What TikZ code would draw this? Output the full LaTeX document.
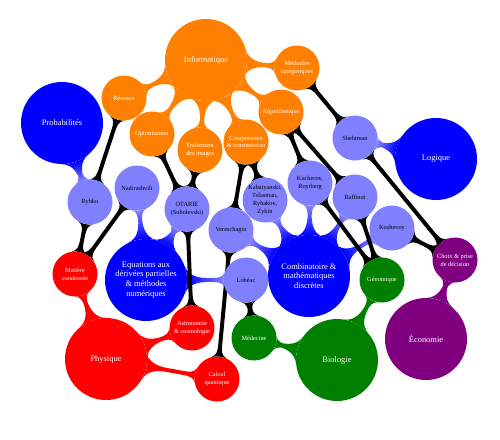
\documentclass[tikz,border=0pt]{standalone}
\usepackage{fontspec}
\setmainfont{Liberation Serif}
\usetikzlibrary{mindmap,backgrounds}
\begin{document}
\begin{tikzpicture}[x=0.5mm,y=-0.5mm,
	concept big/.style={circle,inner sep=0pt,align=center,minimum size=41mm,font=\large,text=white},
	concept small/.style={circle,inner sep=0pt,align=center,minimum size=22.5mm,font=\small},
	info/.style={concept small,fill=orange,text=white},
	person/.style={concept small,fill=blue!50,text=black},
	phys/.style={concept small,fill=red,text=white},
	bio/.style={concept small,fill=green!50!black,text=white},
	eco/.style={concept small,fill=violet,text=white},
	bar/.style 2 args={circle connection bar switch color=from (#1) to (#2),line width=4mm},
	wire/.style={circle connection bar switch color=from (black) to (black),line width=2.5mm}]
\useasboundingbox (0,0) rectangle (500,439);
% domaines
\node[concept big,fill=orange] (info) at (206,60) {Informatique};
\node[concept big,fill=blue] (proba) at (62,123) {Probabilités};
\node[concept big,fill=blue] (logique) at (436,159) {Logique};
\node[concept big,fill=blue] (edp) at (146,280) {Equations aux\\dérivées partielles\\\& méthodes\\numériques};
\node[concept big,fill=blue] (combi) at (309,276) {Combinatoire \&\\mathématiques\\discrètes};
\node[concept big,fill=red] (physique) at (106,359) {Physique};
\node[concept big,fill=green!50!black] (biologie) at (337,360) {Biologie};
\node[concept big,fill=violet] (economie) at (426,339) {Économie};
% informatique
\node[info] (reseaux) at (124,98) {Réseaux};
\node[info] (optim) at (152,134) {Optimisation};
\node[info] (images) at (200,150) {Traitement\\des images};
\node[info] (compression) at (246,142) {Compression\\\& transmission};
\node[info] (algo) at (281,112) {Algorithmique};
\node[info] (categ) at (297,68) {Méthodes\\catégoriques};
% personnes
\node[person] (rybko) at (90,202) {Rybko};
\node[person] (nadirashvili) at (137,188) {Nadirashvili};
\node[person] (otarie) at (187,209) {OTARIE\\(Sobolevski)};
\node[person] (vereschagin) at (231,230) {Vereschagin};
\node[person] (kabatyanski) at (265,200) {Kabatyanski,\\Tsfasman,\\Rybakov,\\Zykin};
\node[person] (kucherov) at (310,183) {Kucherov,\\Roytberg};
\node[person] (raffinot) at (355,197) {Raffinot};
\node[person] (koshevoy) at (392,228) {Koshevoy};
\node[person] (shehtman) at (355,138) {Shehtman};
\node[person] (lobeac) at (246,280) {Lobéac};
% applications
\node[phys] (matiere) at (75,274) {Matière\\condensée};
\node[phys] (astro) at (192,328) {Astronomie\\\& cosmologie};
\node[phys] (calcul) at (217,379) {Calcul\\quantique};
\node[bio] (medecine) at (254,338) {Médecine};
\node[bio] (genomique) at (382,280) {Génomique};
\node[eco] (choix) at (455,260) {Choix \& prise\\de décision};
\begin{scope}[on background layer]
	% liens des domaines
	\path (info) to[bar={orange}{orange}] (reseaux);
	\path (info) to[bar={orange}{orange}] (optim);
	\path (info) to[bar={orange}{orange}] (images);
	\path (info) to[bar={orange}{orange}] (compression);
	\path (info) to[bar={orange}{orange}] (algo);
	\path (info) to[bar={orange}{orange}] (categ);
	\path (proba) to[bar={blue}{blue!50}] (rybko);
	\path (logique) to[bar={blue}{blue!50}] (shehtman);
	\path (edp) to[bar={blue}{blue!50}] (nadirashvili);
	\path (edp) to[bar={blue}{blue!50}] (otarie);
	\path (edp) to[bar={blue}{blue!50}] (lobeac);
	\path (combi) to[bar={blue}{blue!50}] (vereschagin);
	\path (combi) to[bar={blue}{blue!50}] (kabatyanski);
	\path (combi) to[bar={blue}{blue!50}] (kucherov);
	\path (combi) to[bar={blue}{blue!50}] (raffinot);
	\path (combi) to[bar={blue}{blue!50}] (koshevoy);
	\path (physique) to[bar={red}{red}] (matiere);
	\path (physique) to[bar={red}{red}] (astro);
	\path (physique) to[bar={red}{red}] (calcul);
	\path (biologie) to[bar={green!50!black}{green!50!black}] (medecine);
	\path (biologie) to[bar={green!50!black}{green!50!black}] (genomique);
	\path (economie) to[bar={violet}{violet}] (choix);
	% liens noirs
	\path (reseaux) to[wire] (rybko);
	\path (rybko) to[wire] (matiere);
	\path (nadirashvili) to[wire] (matiere);
	\path (optim) to[wire] (otarie);
	\path (images) to[wire] (otarie);
	\path (otarie) to[wire] (astro);
	\path (compression) to[wire] (vereschagin);
	\path (compression) to[wire] (kabatyanski);
	\path (vereschagin) to[wire] (calcul);
	\path (lobeac) to[wire] (medecine);
	\path (algo) to[wire] (kucherov);
	\path (algo) to[wire] (raffinot);
	\path (kucherov) to[wire] (genomique);
	\path (raffinot) to[wire] (genomique);
	\path (categ) to[wire] (shehtman);
	\path (shehtman) to[wire] (choix);
	\path (koshevoy) to[wire] (choix);
\end{scope}
\end{tikzpicture}
\end{document}
